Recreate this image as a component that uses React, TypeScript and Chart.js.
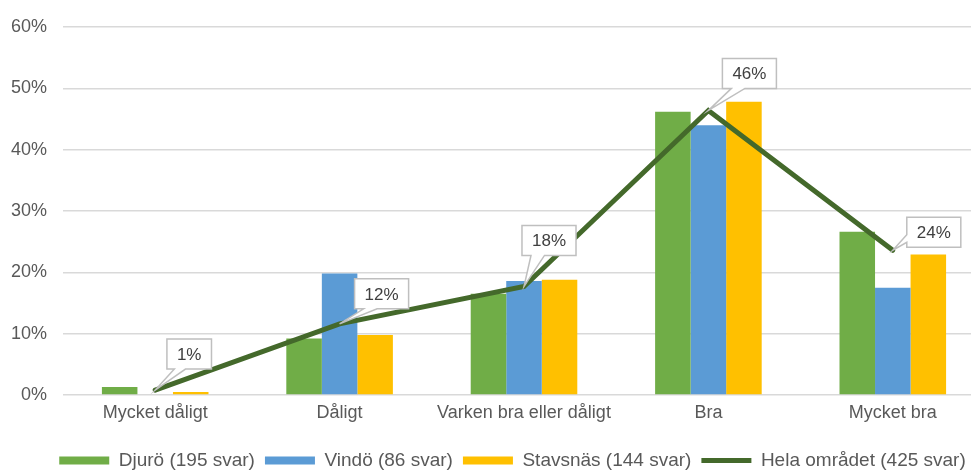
import React, { useEffect, useRef } from "react";
import { Chart, registerables } from "chart.js";

Chart.register(...registerables);

const categories = ["Mycket dåligt", "Dåligt", "Varken bra eller dåligt", "Bra", "Mycket bra"];
const djuro = [1.3, 9.2, 16.5, 46.2, 26.6];
const vindo = [0, 19.8, 18.6, 44.0, 17.5];
const stavsnas = [0.5, 9.8, 18.8, 47.8, 22.9];
const helaOmradet = [0.8, 11.6, 17.7, 46.4, 23.6];
const seriesNames = ["Djurö (195 svar)", "Vindö (86 svar)", "Stavsnäs (144 svar)", "Hela området (425 svar)"];
const yTicks = [0, 10, 20, 30, 40, 50, 60];

// callout box offset (box centre relative to the line point), styling config
const calloutOffsets = [
  [34, -36],
  [42, -30],
  [25, -46],
  [41, -37],
  [41, -18],
];

const FONT = "'Liberation Sans', Arial, sans-serif";
const TEXT = "#595959";

const calloutPlugin = {
  id: "callouts",
  afterLayout(chart: any) {
    const lg = chart.legend;
    if (lg) {
      lg.left += 20;
      lg.right += 20;
    }
  },
  afterDatasetsDraw(chart: any) {
    const ctx = chart.ctx;
    const dsIndex = chart.data.datasets.findIndex((d: any) => d.type === "line");
    if (dsIndex < 0) return;
    const meta = chart.getDatasetMeta(dsIndex);
    const data = chart.data.datasets[dsIndex].data;
    ctx.save();
    ctx.font = `17px ${FONT}`;
    meta.data.forEach((pt: any, i: number) => {
      const text = Math.round(data[i]) + "%";
      const tw = ctx.measureText(text).width;
      const w = tw + 20;
      const h = 30;
      const [ox, oy] = calloutOffsets[i];
      const hc = pt.x + ox;
      const vc = pt.y + oy;
      const l = hc - w / 2, r = hc + w / 2, t = vc - h / 2, b = vc + h / 2;
      const xPos = pt.x, yPos = pt.y;
      const dxPos = xPos - hc, dyPos = yPos - vc;
      const dq = (dxPos * h) / w;
      const dz = Math.abs(dyPos) - Math.abs(dq);
      const xg1 = dxPos > 0 ? 7 : 2, xg2 = dxPos > 0 ? 10 : 5;
      const x1 = l + (w * xg1) / 12, x2 = l + (w * xg2) / 12;
      const yg1 = dyPos > 0 ? 7 : 2, yg2 = dyPos > 0 ? 10 : 5;
      const y1 = t + (h * yg1) / 12, y2 = t + (h * yg2) / 12;
      const xl = dz > 0 ? l : dxPos > 0 ? l : xPos;
      const xt = dz > 0 ? (dyPos > 0 ? x1 : xPos) : x1;
      const xr = dz > 0 ? r : dxPos > 0 ? xPos : r;
      const xb = dz > 0 ? (dyPos > 0 ? xPos : x1) : x1;
      const yl = dz > 0 ? y1 : dxPos > 0 ? y1 : yPos;
      const yt = dz > 0 ? (dyPos > 0 ? t : yPos) : t;
      const yr = dz > 0 ? y1 : dxPos > 0 ? yPos : y1;
      const yb = dz > 0 ? (dyPos > 0 ? yPos : b) : b;
      ctx.beginPath();
      ctx.moveTo(l, t);
      ctx.lineTo(x1, t);
      ctx.lineTo(xt, yt);
      ctx.lineTo(x2, t);
      ctx.lineTo(r, t);
      ctx.lineTo(r, y1);
      ctx.lineTo(xr, yr);
      ctx.lineTo(r, y2);
      ctx.lineTo(r, b);
      ctx.lineTo(x2, b);
      ctx.lineTo(xb, yb);
      ctx.lineTo(x1, b);
      ctx.lineTo(l, b);
      ctx.lineTo(l, y2);
      ctx.lineTo(xl, yl);
      ctx.lineTo(l, y1);
      ctx.closePath();
      ctx.fillStyle = "#FFFFFF";
      ctx.fill();
      ctx.lineWidth = 1.5;
      ctx.strokeStyle = "#BFBFBF";
      ctx.lineJoin = "miter";
      ctx.stroke();
      ctx.fillStyle = "#404040";
      ctx.textAlign = "center";
      ctx.textBaseline = "middle";
      ctx.fillText(text, hc, vc + 1);
    });
    ctx.restore();
  },
};

export default function App() {
  const ref = useRef<HTMLCanvasElement | null>(null);
  useEffect(() => {
    if (!ref.current) return;
    const chart = new Chart(ref.current, {
      type: "bar",
      data: {
        labels: categories,
        datasets: [
          { type: "bar", label: seriesNames[0], data: djuro, backgroundColor: "#70AD47", borderWidth: 0 },
          { type: "bar", label: seriesNames[1], data: vindo, backgroundColor: "#5B9BD5", borderWidth: 0 },
          { type: "bar", label: seriesNames[2], data: stavsnas, backgroundColor: "#FFC000", borderWidth: 0 },
          {
            type: "line",
            label: seriesNames[3],
            data: helaOmradet,
            borderColor: "#44692B",
            backgroundColor: "#44692B",
            borderWidth: 5,
            pointRadius: 0,
            pointHoverRadius: 0,
            tension: 0,
            borderCapStyle: "round",
            borderJoinStyle: "miter",
            order: -1,
          } as any,
        ],
      },
      options: {
        animation: false,
        responsive: false,
        devicePixelRatio: 1,
        layout: { padding: { left: 0, right: 15, top: 27, bottom: 0 } },
        datasets: { bar: { categoryPercentage: 0.578, barPercentage: 1 } },
        plugins: {
          tooltip: { enabled: false },
          legend: {
            position: "bottom",
            labels: {
              usePointStyle: true,
              pointStyleWidth: 50,
              boxHeight: 8,
              padding: 10,
              color: TEXT,
              font: { family: FONT, size: 19 },
              generateLabels: (c: any) =>
                c.data.datasets.map((ds: any, i: number) => ({
                  text: ds.label,
                  fillStyle: ds.type === "line" ? ds.borderColor : ds.backgroundColor,
                  strokeStyle: ds.type === "line" ? ds.borderColor : ds.backgroundColor,
                  lineWidth: ds.type === "line" ? 5 : 0,
                  pointStyle: ds.type === "line" ? "line" : "rect",
                  hidden: false,
                  datasetIndex: i,
                  fontColor: TEXT,
                })),
            },
          },
        },
        scales: {
          x: {
            grid: { display: false, drawTicks: false },
            border: { display: false },
            ticks: { color: TEXT, font: { family: FONT, size: 18 }, padding: 7, maxRotation: 0 },
            afterFit: (s: any) => {
              s.height = 46;
            },
          },
          y: {
            min: 0,
            max: 60,
            afterBuildTicks: (s: any) => {
              s.ticks = yTicks.map((v) => ({ value: v }));
            },
            grid: { color: "#D9D9D9", lineWidth: 1.5, drawTicks: false },
            border: { display: false },
            ticks: {
              color: TEXT,
              font: { family: FONT, size: 18 },
              padding: 16,
              callback: (v: any) => v + "%",
            },
            afterFit: (s: any) => {
              s.width = 63;
            },
          },
        },
      },
      plugins: [calloutPlugin],
    });
    return () => chart.destroy();
  }, []);
  return (
    <div
      style={{
        position: "absolute",
        left: 0,
        top: 0,
        width: 971,
        height: 471,
        overflow: "hidden",
        background: "#fff",
      }}
    >
      <canvas ref={ref} width={1000} height={480} style={{ display: "block" }} />
    </div>
  );
}
